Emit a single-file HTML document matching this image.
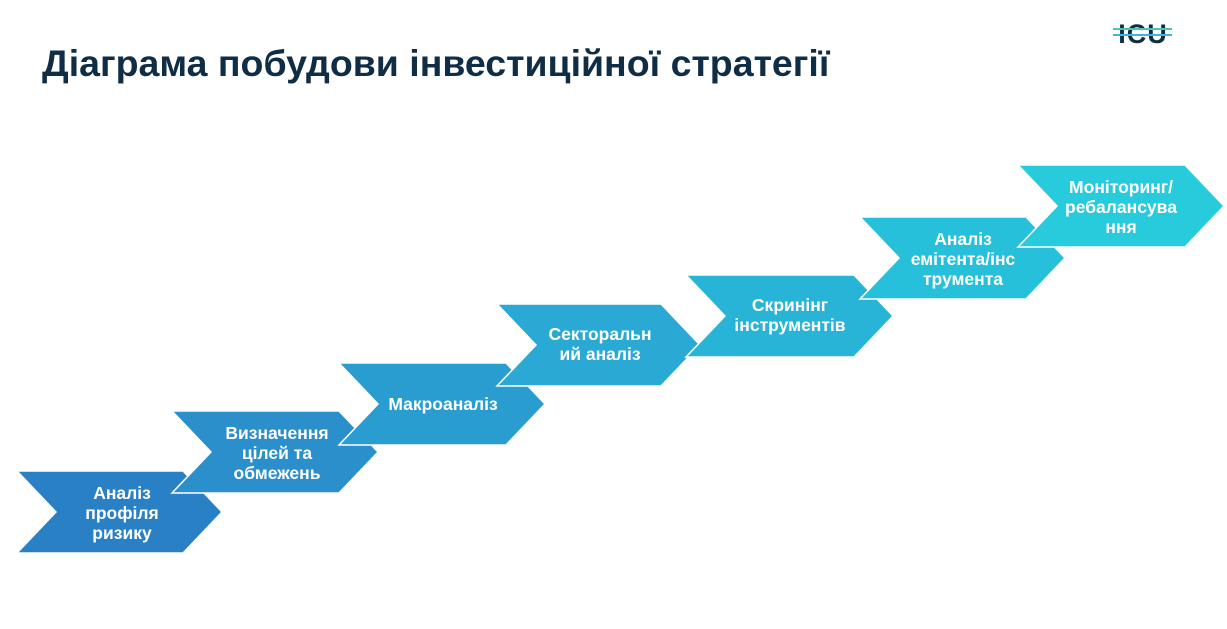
<!DOCTYPE html>
<html><head><meta charset="utf-8"><style>
html,body{margin:0;padding:0;background:#fff;}
body{width:1227px;height:629px;position:relative;overflow:hidden;font-family:"Liberation Sans",Arial,sans-serif;}
.t{position:absolute;left:42px;top:42px;font-size:37.5px;font-weight:bold;color:#0f2d45;white-space:nowrap;}
</style></head><body>
<div class="t">Діаграма побудови інвестиційної стратегії</div>
<svg width="1227" height="629" style="position:absolute;left:0;top:0">
<g font-family="Liberation Sans, Arial, sans-serif" font-weight="bold" font-size="17.5" text-anchor="middle" fill="#fff">
<polygon points="17,471 183,471 222,512 183,553 17,553 56,512" fill="#2a80c5" stroke="#fff" stroke-width="1.5"/>
<text x="122" y="499">Аналіз</text><text x="122" y="519">профіля</text><text x="122" y="539">ризику</text>
<polygon points="172,411 339,411 378,452 339,493 172,493 211,452" fill="#2b8fcb" stroke="#fff" stroke-width="1.5"/>
<text x="277" y="439">Визначення</text><text x="277" y="459">цілей та</text><text x="277" y="479">обмежень</text>
<polygon points="339,363 506,363 545,404 506,445 339,445 378,404" fill="#2a9dd0" stroke="#fff" stroke-width="1.5"/>
<text x="443" y="410">Макроаналіз</text>
<polygon points="497,304 661,304 700,345 661,386 497,386 536,345" fill="#29a9d4" stroke="#fff" stroke-width="1.5"/>
<text x="600" y="340">Секторальн</text><text x="600" y="360">ий аналіз</text>
<polygon points="686,275 854,275 893,316 854,357 686,357 725,316" fill="#28b4d7" stroke="#fff" stroke-width="1.5"/>
<text x="790" y="311">Скринінг</text><text x="790" y="331">інструментів</text>
<polygon points="860,217 1026,217 1065,258 1026,299 860,299 899,258" fill="#27c0da" stroke="#fff" stroke-width="1.5"/>
<text x="963" y="245">Аналіз</text><text x="963" y="265">емітента/інс</text><text x="963" y="285">трумента</text>
<polygon points="1018,165 1185,165 1224,206 1185,247 1018,247 1057,206" fill="#28cbdc" stroke="#fff" stroke-width="1.5"/>
<text x="1121" y="193">Моніторинг/</text><text x="1121" y="213">ребалансува</text><text x="1121" y="233">ння</text>
</g>
<g>
<text x="1143" y="43" text-anchor="middle" font-family="Liberation Sans, Arial, sans-serif" font-weight="bold" font-size="27" fill="#0f2d45" letter-spacing="1">ICU</text>
<line x1="1113" y1="29" x2="1172" y2="29" stroke="#4cc4b0" stroke-width="2"/>
<line x1="1113" y1="35" x2="1172" y2="35" stroke="#3bb6e0" stroke-width="2"/>
</g>
</svg>
</body></html>
